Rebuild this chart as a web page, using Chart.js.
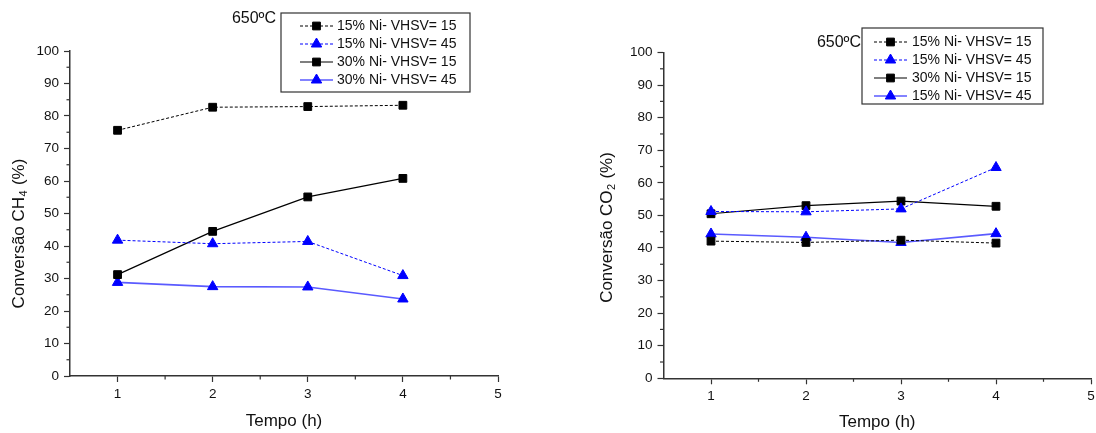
<!DOCTYPE html>
<html>
<head>
<meta charset="utf-8">
<script src="https://cdn.jsdelivr.net/npm/chart.js@4/dist/chart.umd.min.js"></script>
<style>
html, body { margin: 0; padding: 0; background: #fff; }
#wrap { position: relative; width: 1096px; height: 433px; overflow: hidden; }
.painel { position: absolute; top: 0; height: 433px; width: 548px; overflow: hidden; }
</style>
</head>
<body>
<div id="wrap">
  <div class="painel" style="left:0"><canvas id="graficoCH4" width="548" height="433"></canvas></div>
  <div class="painel" style="left:548px"><canvas id="graficoCO2" width="600" height="433"></canvas></div>
</div>
<script>
// Tempo (h) - eixo X
const tempos = [1, 2, 3, 4];

// Conversão CH4 (%)
const ch4_15Ni_v15 = [75.6, 82.7, 82.9, 83.3];
const ch4_15Ni_v45 = [41.8, 40.7, 41.4, 30.9];
const ch4_30Ni_v15 = [31.2, 44.5, 55.1, 60.8];
const ch4_30Ni_v45 = [28.8, 27.5, 27.4, 23.7];

// Conversão CO2 (%)
const co2_15Ni_v15 = [42.1, 41.7, 42.4, 41.5];
const co2_15Ni_v45 = [51.2, 51.1, 52.0, 64.7];
const co2_30Ni_v15 = [50.5, 53.0, 54.4, 52.8];
const co2_30Ni_v45 = [44.3, 43.3, 41.7, 44.4];

// Legendas (a do CO2 repete "15% Ni" na última, como no original)
const legendaCH4 = ['15% Ni- VHSV= 15', '15% Ni- VHSV= 45', '30% Ni- VHSV= 15', '30% Ni- VHSV= 45'];
const legendaCO2 = ['15% Ni- VHSV= 15', '15% Ni- VHSV= 45', '30% Ni- VHSV= 15', '15% Ni- VHSV= 45'];

// Rótulos dos ticks
const ticksY = [0, 10, 20, 30, 40, 50, 60, 70, 80, 90, 100];
const ticksX = [1, 2, 3, 4, 5];

const FONTE = '"Liberation Sans", Arial, Helvetica, sans-serif';
const AZUL = '#0000ff';

// estilo de cada série: tracejado preto, tracejado azul, sólido preto, sólido azul claro
const estilos = [
    { cor: '#000000', marca: '#000000', dash: [3, 2], largura: 1, ponto: 'rect', raio: 5.5 },
    { cor: AZUL, marca: AZUL, dash: [3, 2], largura: 1, ponto: 'triangle', raio: 6 },
    { cor: '#000000', marca: '#000000', dash: [], largura: 1.2, ponto: 'rect', raio: 5.5 },
    { cor: '#5a5aff', marca: AZUL, dash: [], largura: 1.6, ponto: 'triangle', raio: 6 }
];

function montarSeries(listas, rotulos) {
    return listas.map((valores, i) => {
        const e = estilos[i];
        return {
            label: rotulos[i],
            data: tempos.map((t, k) => ({ x: t, y: valores[k] })),
            borderColor: e.cor,
            borderWidth: e.largura,
            borderDash: e.dash,
            pointStyle: e.ponto,
            pointRadius: e.raio,
            pointBackgroundColor: e.marca,
            pointBorderColor: e.marca,
            pointBorderWidth: 1,
            tension: 0,
            fill: false
        };
    });
}

function desenharMarca(ctx, estilo, raio, x, y) {
    if (window.Chart && Chart.helpers && Chart.helpers.drawPoint) {
        Chart.helpers.drawPoint(ctx, { pointStyle: estilo, radius: raio, borderWidth: 1, rotation: 0 }, x, y);
        return;
    }
    ctx.beginPath();
    if (estilo === 'rect') {
        const s = raio * Math.SQRT1_2;
        ctx.rect(x - s, y - s, 2 * s, 2 * s);
    } else {
        ctx.moveTo(x, y - raio);
        ctx.lineTo(x + raio * 0.866, y + raio * 0.5);
        ctx.lineTo(x - raio * 0.866, y + raio * 0.5);
        ctx.closePath();
    }
    ctx.fill();
    ctx.stroke();
}

// ticks menores, título do eixo Y com subscrito, legenda em caixa e "650ºC"
const pluginExtras = {
    id: 'extras',
    afterDraw(chart, args, op) {
        const ctx = chart.ctx;
        ctx.save();

        // ticks menores (mais curtos)
        ctx.strokeStyle = '#333';
        ctx.lineWidth = 1.2;
        const sx = chart.scales.x, sy = chart.scales.y;
        sx.ticks.forEach(t => {
            if (ticksX.includes(t.value) || t.value === sx.min) return;
            const px = sx.getPixelForValue(t.value);
            ctx.beginPath();
            ctx.moveTo(px, sx.top);
            ctx.lineTo(px, sx.top + 3.5);
            ctx.stroke();
        });
        sy.ticks.forEach(t => {
            if (ticksY.includes(t.value)) return;
            const py = sy.getPixelForValue(t.value);
            ctx.beginPath();
            ctx.moveTo(sy.right, py);
            ctx.lineTo(sy.right - 3.5, py);
            ctx.stroke();
        });

        // título Y rotacionado com subscrito
        const ty = op.tituloY;
        ctx.translate(ty.x, ty.y);
        ctx.rotate(-Math.PI / 2);
        ctx.fillStyle = '#111';
        ctx.textBaseline = 'middle';
        ctx.textAlign = 'left';
        const fNormal = '17px ' + FONTE, fSub = '11px ' + FONTE;
        ctx.font = fNormal;
        const w1 = ctx.measureText(ty.antes).width;
        const w3 = ctx.measureText(ty.depois).width;
        ctx.font = fSub;
        const w2 = ctx.measureText(ty.sub).width;
        let x0 = -(w1 + w2 + w3) / 2;
        ctx.font = fNormal;
        ctx.fillText(ty.antes, x0, 0);
        ctx.font = fSub;
        ctx.fillText(ty.sub, x0 + w1 + 0.5, 5);
        ctx.font = fNormal;
        ctx.fillText(ty.depois, x0 + w1 + w2 + 1, 0);
        ctx.setTransform(1, 0, 0, 1, 0, 0);

        // legenda
        const lg = op.legenda;
        ctx.strokeStyle = '#333';
        ctx.lineWidth = 1.2;
        ctx.strokeRect(lg.x, lg.y, lg.w, lg.h);
        chart.data.datasets.forEach((ds, i) => {
            const y = lg.linha0 + i * lg.passo;
            ctx.beginPath();
            ctx.setLineDash(ds.borderDash);
            ctx.strokeStyle = ds.borderColor;
            ctx.lineWidth = ds.borderWidth;
            ctx.moveTo(lg.amostraX, y);
            ctx.lineTo(lg.amostraX + lg.amostraW, y);
            ctx.stroke();
            ctx.setLineDash([]);
            ctx.fillStyle = ds.pointBackgroundColor;
            ctx.strokeStyle = ds.pointBorderColor;
            ctx.lineWidth = 1;
            desenharMarca(ctx, ds.pointStyle, ds.pointRadius, lg.amostraX + lg.amostraW / 2, y);
            ctx.fillStyle = '#111';
            ctx.font = '14px ' + FONTE;
            ctx.textAlign = 'left';
            ctx.textBaseline = 'middle';
            ctx.fillText(ds.label, lg.textoX, y + 0.5);
        });

        // temperatura
        ctx.fillStyle = '#111';
        ctx.font = '16px ' + FONTE;
        ctx.textAlign = 'right';
        ctx.textBaseline = 'middle';
        ctx.fillText('650ºC', op.temp.x, op.temp.y);

        ctx.restore();
    }
};

function criarGrafico(idCanvas, series, cfg) {
    const ctx = document.getElementById(idCanvas).getContext('2d');
    return new Chart(ctx, {
        type: 'line',
        data: { datasets: series },
        options: {
            responsive: false,
            animation: false,
            devicePixelRatio: 1,
            layout: { padding: { left: 0, top: cfg.topo, right: cfg.direita, bottom: 0 } },
            plugins: {
                legend: { display: false },
                tooltip: { enabled: false },
                extras: cfg.extras
            },
            scales: {
                x: {
                    type: 'linear',
                    min: 0.5,
                    max: 5,
                    border: { display: true, color: '#333', width: 1.5 },
                    grid: {
                        drawOnChartArea: false,
                        drawTicks: true,
                        tickLength: 6,
                        tickWidth: 1.2,
                        tickColor: c => ticksX.includes(c.tick.value) ? '#333' : 'rgba(0,0,0,0)'
                    },
                    ticks: {
                        stepSize: 0.5,
                        autoSkip: false,
                        maxRotation: 0,
                        padding: 4,
                        color: '#111',
                        font: { family: FONTE, size: 13.5 },
                        callback: v => ticksX.includes(v) ? String(v) : ''
                    },
                    title: {
                        display: true,
                        text: 'Tempo (h)',
                        color: '#111',
                        font: { family: FONTE, size: 17 },
                        padding: { top: 0, bottom: cfg.tituloXpad }
                    },
                    afterFit: s => {
                        s.height = cfg.alturaX;
                        s.paddingLeft = 0; s.paddingRight = 0;
                        s.paddingTop = 0; s.paddingBottom = 0;
                    }
                },
                y: {
                    min: 0,
                    max: 100,
                    border: { display: true, color: '#333', width: 1.5 },
                    grid: {
                        drawOnChartArea: false,
                        drawTicks: true,
                        tickLength: 6,
                        tickWidth: 1.2,
                        tickColor: c => ticksY.includes(c.tick.value) ? '#333' : 'rgba(0,0,0,0)'
                    },
                    ticks: {
                        stepSize: 5,
                        autoSkip: false,
                        padding: 5,
                        color: '#111',
                        font: { family: FONTE, size: 13.5 },
                        callback: v => ticksY.includes(v) ? String(v) : ''
                    },
                    afterFit: s => {
                        s.width = cfg.larguraY;
                        s.paddingLeft = 0; s.paddingRight = 0;
                        s.paddingTop = 0; s.paddingBottom = 0;
                    }
                }
            }
        },
        plugins: [pluginExtras]
    });
}

criarGrafico('graficoCH4',
    montarSeries([ch4_15Ni_v15, ch4_15Ni_v45, ch4_30Ni_v15, ch4_30Ni_v45], legendaCH4),
    {
        topo: 51, direita: 50, larguraY: 70, alturaX: 57, tituloXpad: 1.8,
        extras: {
            tituloY: { x: 19, y: 234, antes: 'Conversão CH', sub: '4', depois: ' (%)' },
            legenda: { x: 281, y: 13, w: 189, h: 79, linha0: 26, passo: 18, amostraX: 300, amostraW: 33, textoX: 337 },
            temp: { x: 276, y: 19 }
        }
    });

criarGrafico('graficoCO2',
    montarSeries([co2_15Ni_v15, co2_15Ni_v45, co2_30Ni_v15, co2_30Ni_v45], legendaCO2),
    {
        topo: 52.5, direita: 57, larguraY: 115.5, alturaX: 54.7, tituloXpad: 0,
        extras: {
            tituloY: { x: 59, y: 228, antes: 'Conversão CO', sub: '2', depois: ' (%)' },
            legenda: { x: 314, y: 28, w: 181, h: 76, linha0: 42, passo: 18, amostraX: 326, amostraW: 33, textoX: 364 },
            temp: { x: 313, y: 43 }
        }
    });
</script>
</body>
</html>
